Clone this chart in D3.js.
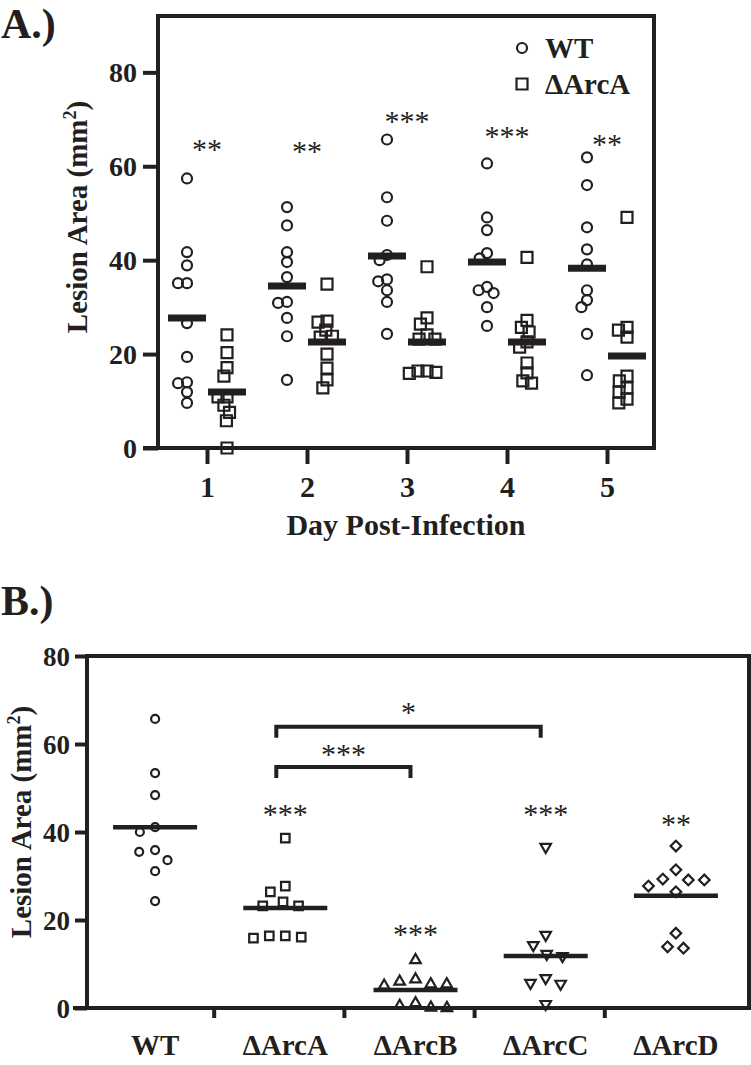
<!DOCTYPE html>
<html><head><meta charset="utf-8">
<script src="https://cdn.jsdelivr.net/npm/d3@7"></script>
<style>
html,body{margin:0;padding:0;background:#fff;}
svg{display:block;}
text{font-family:"Liberation Serif","Times New Roman",serif;fill:#231f20;}
</style></head>
<body>
<svg id="chart" width="751" height="1065"></svg>
<script>
// ---------------- Panel A data ----------------
const days = [1, 2, 3, 4, 5];
const wtByDay = [
  [57.4, 41.7, 38.9, 35.1, 35.1, 26.6, 19.4, 14.0, 13.8, 11.9, 9.6],
  [51.3, 47.4, 41.7, 39.6, 36.4, 31.1, 30.9, 27.7, 23.8, 14.5],
  [65.7, 53.4, 48.4, 41.1, 40.0, 35.9, 35.5, 33.6, 31.1, 24.3],
  [60.6, 49.1, 46.4, 41.5, 40.4, 34.3, 33.6, 33.0, 30.0, 26.0],
  [61.9, 56.0, 47.0, 42.3, 39.1, 33.6, 31.5, 30.0, 24.3, 15.5]
];
const arcAByDay = [
  [24.1, 20.3, 17.1, 15.3, 10.9, 10.9, 9.1, 7.6, 5.8, 0.0],
  [34.9, 27.0, 26.8, 25.1, 23.8, 23.6, 20.0, 17.0, 14.5, 12.8],
  [38.6, 27.7, 26.4, 24.1, 23.2, 23.2, 16.4, 16.1, 15.9, 16.4],
  [40.6, 27.2, 25.7, 24.7, 22.6, 21.5, 18.1, 16.0, 14.3, 13.8],
  [49.1, 25.7, 25.1, 23.6, 15.3, 14.3, 12.8, 11.9, 10.4, 9.6]
];
const wtMeanByDay = [27.7, 34.5, 40.9, 39.6, 38.3];
const arcAMeanByDay = [11.9, 22.6, 22.6, 22.6, 19.6];
const starsA = ["**", "**", "***", "***", "**"];
const starsAValue = [64.5, 64.0, 70.4, 67.2, 65.5];
const seriesA = ["WT", "\u0394ArcA"];
const yTicksA = [0, 20, 40, 60, 80];

// ---------------- Panel B data ----------------
const strains = ["WT", "\u0394ArcA", "\u0394ArcB", "\u0394ArcC", "\u0394ArcD"];
const strainValues = [
  [65.7, 53.4, 48.4, 41.1, 40.0, 35.9, 35.5, 33.6, 31.1, 24.3],
  [38.6, 27.7, 26.4, 24.1, 23.2, 23.2, 16.4, 16.1, 15.9, 16.4],
  [10.9, 6.5, 6.0, 5.4, 5.4, 5.1, 1.1, 0.5, 0.1, 0.0],
  [36.6, 16.6, 14.3, 12.3, 11.8, 6.8, 5.7, 5.5, 0.9],
  [36.8, 31.4, 29.3, 29.1, 29.1, 27.7, 26.4, 17.0, 13.9, 13.6]
];
const strainMeans = [41.1, 22.7, 4.1, 11.8, 25.5];
const strainStars = ["", "***", "***", "***", "**"];
const strainStarsValue = [0, 45.0, 17.7, 45.0, 42.7];
const brackets = [ // comparisons
  { from: 1, to: 3, level: 63.9, label: "*", labelValue: 68.2 },
  { from: 1, to: 2, level: 54.8, label: "***", labelValue: 58.6 }
];
const yTicksB = [0, 20, 40, 60, 80];

// ---------------- drawing ----------------
const svg = d3.select("#chart");
const ink = "#231f20";

function swarm(values, cx, y, diam) {
  const pts = values.map(v => ({ v, y: y(v) })).sort((a, b) => a.y - b.y);
  const placed = [];
  for (const p of pts) {
    const ivs = [];
    for (const q of placed) {
      const dy = Math.abs(q.y - p.y);
      if (dy < diam) {
        const dx = Math.sqrt(diam * diam - dy * dy);
        ivs.push([q.x - dx, q.x + dx]);
      }
    }
    const cands = [cx];
    ivs.forEach(([a, b]) => { cands.push(a, b); });
    cands.sort((a, b) => Math.abs(a - cx) - Math.abs(b - cx));
    let chosen = cx;
    for (const c of cands) {
      if (!ivs.some(([a, b]) => c > a + 0.01 && c < b - 0.01)) { chosen = c; break; }
    }
    p.x = chosen;
    placed.push(p);
  }
  return pts;
}

// ===== Panel A =====
const A = { left: 158, right: 654, top: 16, bottom: 448 };
const xA = d3.scaleLinear().domain([1, 5]).range([207, 607]);
const yA = d3.scaleLinear().domain([0, 92]).range([A.bottom, A.top]);
const gA = svg.append("g");

gA.append("text").attr("x", 1).attr("y", 38).attr("font-size", 42).attr("font-weight", "bold").text("A.)");

gA.append("path")
  .attr("d", `M${A.left},${A.bottom} L${A.left},${A.top} L${A.right},${A.top} L${A.right},${A.bottom} L${A.left - 15},${A.bottom}`)
  .attr("fill", "none").attr("stroke", ink).attr("stroke-width", 4);

const axA = gA.append("g").attr("transform", `translate(${A.left},0)`)
  .call(d3.axisLeft(yA).tickValues(yTicksA).tickSize(15).tickPadding(6).tickSizeOuter(0));
axA.select(".domain").remove();
axA.selectAll(".tick line").attr("stroke", ink).attr("stroke-width", 4);
axA.selectAll(".tick text").attr("font-size", 28).attr("font-weight", "bold")
  .attr("font-family", "Liberation Serif").attr("fill", ink).attr("dy", "0.34em");

const axAx = gA.append("g").attr("transform", `translate(0,${A.bottom})`)
  .call(d3.axisBottom(xA).tickValues(days).tickSize(16).tickPadding(12).tickFormat(d3.format("d")).tickSizeOuter(0));
axAx.select(".domain").remove();
axAx.selectAll(".tick line").attr("stroke", ink).attr("stroke-width", 4);
axAx.selectAll(".tick text").attr("font-size", 30).attr("font-weight", "bold")
  .attr("font-family", "Liberation Serif").attr("fill", ink);

gA.append("text").attr("x", 406).attr("y", 535).attr("text-anchor", "middle")
  .attr("font-size", 30).attr("font-weight", "bold").text("Day Post-Infection");

function ylabel(g, x, y) {
  const t = g.append("text").attr("transform", `translate(${x},${y}) rotate(-90)`)
    .attr("text-anchor", "middle").attr("font-size", 29).attr("font-weight", "bold");
  t.append("tspan").text("Lesion Area (mm");
  t.append("tspan").attr("font-size", 18).attr("dy", -11).text("2");
  t.append("tspan").attr("dy", 11).text(")");
}
ylabel(gA, 87, 217);

const circA = d3.symbol().type(d3.symbolCircle).size(Math.PI * 5 * 5)();
const sqA = d3.symbol().type(d3.symbolSquare).size(11 * 11)();
const offA = 0.2;

days.forEach((d, i) => {
  const groups = [
    { vals: wtByDay[i], mean: wtMeanByDay[i], cx: xA(d - offA), sym: circA },
    { vals: arcAByDay[i], mean: arcAMeanByDay[i], cx: xA(d + offA), sym: sqA }
  ];
  groups.forEach(gr => {
    const pts = swarm(gr.vals, gr.cx, yA, 9);
    gA.append("g").selectAll("path").data(pts).join("path")
      .attr("d", gr.sym).attr("transform", p => `translate(${p.x},${p.y})`)
      .attr("fill", "none").attr("stroke", ink).attr("stroke-width", 2.2);
    gA.append("line").attr("x1", gr.cx - 19).attr("x2", gr.cx + 19)
      .attr("y1", yA(gr.mean)).attr("y2", yA(gr.mean))
      .attr("stroke", ink).attr("stroke-width", 7);
  });
  gA.append("text").attr("x", xA(d)).attr("y", yA(starsAValue[i]) + 14)
    .attr("text-anchor", "middle").attr("font-size", 30).text(starsA[i]);
});

// legend
const legA = gA.append("g");
[circA, sqA].forEach((s, i) => {
  const yy = 48 + i * 36;
  legA.append("path").attr("d", s).attr("transform", `translate(522,${yy})`)
    .attr("fill", "none").attr("stroke", ink).attr("stroke-width", 2.2);
  legA.append("text").attr("x", 545).attr("y", yy + 10).attr("font-size", 29)
    .attr("font-weight", "bold").text(seriesA[i]);
});

// ===== Panel B =====
const B = { left: 87, right: 749, top: 656, bottom: 1008 };
const xB = d3.scaleLinear().domain([-0.5, 4.5]).range([90, 741]);
const yB = d3.scaleLinear().domain([0, 80]).range([B.bottom, B.top]);
const gB = svg.append("g");

gB.append("text").attr("x", 1).attr("y", 615).attr("font-size", 42).attr("font-weight", "bold").text("B.)");

gB.append("path")
  .attr("d", `M${B.left},${B.bottom} L${B.left},${B.top} L${B.right},${B.top} L${B.right},${B.bottom} L${B.left - 14},${B.bottom}`)
  .attr("fill", "none").attr("stroke", ink).attr("stroke-width", 4);

const axB = gB.append("g").attr("transform", `translate(${B.left},0)`)
  .call(d3.axisLeft(yB).tickValues(yTicksB).tickSize(12).tickPadding(5).tickSizeOuter(0));
axB.select(".domain").remove();
axB.selectAll(".tick line").attr("stroke", ink).attr("stroke-width", 4);
axB.selectAll(".tick text").attr("font-size", 27).attr("font-weight", "bold")
  .attr("font-family", "Liberation Serif").attr("fill", ink).attr("dy", "0.34em");

const axBx = gB.append("g").attr("transform", `translate(0,${B.bottom})`)
  .call(d3.axisBottom(xB).tickValues(d3.range(strains.length - 1).map(i => i + 0.45)).tickSize(10).tickFormat("").tickSizeOuter(0));
axBx.select(".domain").remove();
axBx.selectAll(".tick line").attr("stroke", ink).attr("stroke-width", 4);

strains.forEach((s, i) => {
  gB.append("text").attr("x", xB(i)).attr("y", 1055).attr("text-anchor", "middle")
    .attr("font-size", 29).attr("font-weight", "bold").text(s);
});

ylabel(gB, 31, 822);

const symB = [
  d3.symbol().type(d3.symbolCircle).size(Math.PI * 4 * 4)(),
  d3.symbol().type(d3.symbolSquare).size(8.5 * 8.5)(),
  d3.symbol().type(d3.symbolTriangle).size(48)(),
  d3.symbol().type(d3.symbolTriangle).size(48)(),
  d3.symbol().type(d3.symbolSquare).size(7.5 * 7.5)()
];
const rotB = [0, 0, 0, 180, 45];

strains.forEach((s, i) => {
  const cx = xB(i);
  const pts = swarm(strainValues[i], cx, yB, 16);
  gB.append("g").selectAll("path").data(pts).join("path")
    .attr("d", symB[i]).attr("transform", p => `translate(${p.x},${p.y}) rotate(${rotB[i]})`)
    .attr("fill", "none").attr("stroke", ink).attr("stroke-width", 2.2);
  gB.append("line").attr("x1", cx - 42).attr("x2", cx + 42)
    .attr("y1", yB(strainMeans[i])).attr("y2", yB(strainMeans[i]))
    .attr("stroke", ink).attr("stroke-width", 4.5);
  if (strainStars[i]) {
    gB.append("text").attr("x", cx).attr("y", yB(strainStarsValue[i]) + 14)
      .attr("text-anchor", "middle").attr("font-size", 30).text(strainStars[i]);
  }
});

brackets.forEach(b => {
  const x1 = xB(b.from) - 9, x2 = xB(b.to) - 5, yy = yB(b.level);
  gB.append("path").attr("d", `M${x1},${yy + 11} L${x1},${yy} L${x2},${yy} L${x2},${yy + 11}`)
    .attr("fill", "none").attr("stroke", ink).attr("stroke-width", 4);
  gB.append("text").attr("x", (x1 + x2) / 2).attr("y", yB(b.labelValue) + 14)
    .attr("text-anchor", "middle").attr("font-size", 30).text(b.label);
});
</script>
</body></html>
